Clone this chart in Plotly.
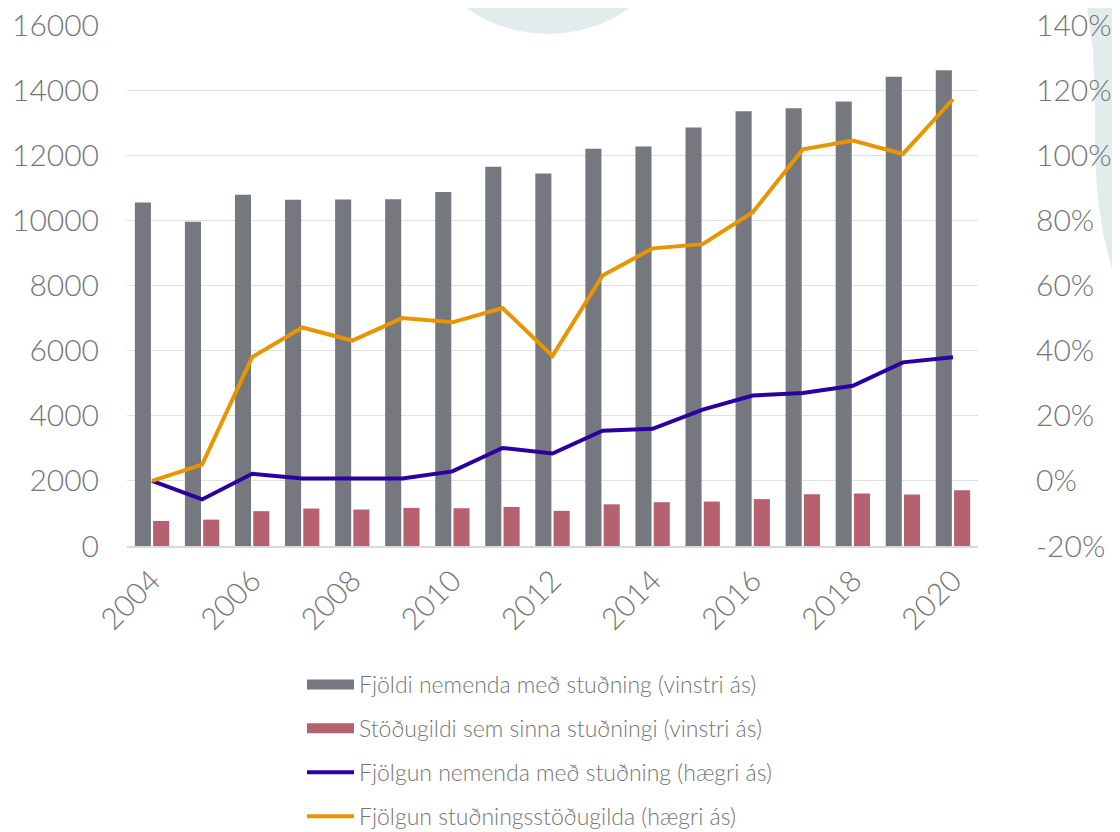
import plotly.graph_objects as go

years = list(range(2004, 2021))
fjoldi_nemenda = [10550, 9960, 10790, 10630, 10640, 10650, 10870, 11650, 11440,
                  12200, 12270, 12850, 13350, 13440, 13650, 14410, 14610]
stodugildi = [770, 810, 1070, 1150, 1120, 1170, 1160, 1200, 1080,
              1280, 1345, 1365, 1440, 1590, 1610, 1580, 1715]
fjolgun_nemenda = [0.0, -0.057, 0.022, 0.007, 0.007, 0.007, 0.029, 0.101, 0.084,
                   0.154, 0.160, 0.219, 0.262, 0.270, 0.292, 0.364, 0.380]
fjolgun_stodugilda = [0.0, 0.050, 0.380, 0.471, 0.431, 0.500, 0.487, 0.531, 0.384,
                      0.631, 0.714, 0.727, 0.825, 1.018, 1.045, 1.004, 1.172]

left_ticks = [0, 2000, 4000, 6000, 8000, 10000, 12000, 14000, 16000]
left_labels = ["0", "2000", "4000", "6000", "8000", "10000", "12000", "14000", "16000"]
right_ticks = [-0.2, 0.0, 0.2, 0.4, 0.6, 0.8, 1.0, 1.2, 1.4]
right_labels = ["-20%", "0%", "20%", "40%", "60%", "80%", "100%", "120%", "140%"]
x_ticks = years[::2]

names = ["Fjöldi nemenda með stuðning (vinstri ás)",
         "Stöðugildi sem sinna stuðningi (vinstri ás)",
         "Fjölgun nemenda með stuðning (hægri ás)",
         "Fjölgun stuðningsstöðugilda (hægri ás)"]

GREY = "#76787f"
PINK = "#b5616f"
BLUE = "#2a00a3"
ORANGE = "#e99500"
TEXT = "#767676"
TEAL = "#e2ecec"
FONT = "Lato"

# page has an 8px body margin; work in screen pixels
OFF = 8
W, H = 1120, 832 - OFF
PL, PR, PT, PB = 127, 978, 25, 546          # plot area in screen pixels
L, R, T, B = PL - OFF, W - (PR - OFF), PT - OFF, H - (PB - OFF)
pw, ph = PR - PL, PB - PT


def X(px):
    return (px - PL) / pw


def Y(py):
    return 1 - (py - PT) / ph


fig = go.Figure()

fig.add_trace(go.Bar(x=years, y=fjoldi_nemenda, name=names[0], marker_color=GREY,
                     marker_line_width=0, showlegend=False))
fig.add_trace(go.Bar(x=years, y=stodugildi, name=names[1], marker_color=PINK,
                     marker_line_width=0, showlegend=False))
fig.add_trace(go.Scatter(x=years, y=fjolgun_nemenda, name=names[2], mode="lines",
                         line=dict(color=BLUE, width=4), yaxis="y2", showlegend=False))
fig.add_trace(go.Scatter(x=years, y=fjolgun_stodugilda, name=names[3], mode="lines",
                         line=dict(color=ORANGE, width=4), yaxis="y2", showlegend=False))

# legend entries
for nm, col, w in zip(names, [GREY, PINK, BLUE, ORANGE], [13, 13, 4, 4]):
    fig.add_trace(go.Scatter(x=[None], y=[None], name=nm, mode="lines",
                             line=dict(color=col, width=w), legendgroup=nm))

shapes = [
    dict(type="circle", xref="paper", yref="paper", layer="below",
         x0=X(548 - 141), x1=X(548 + 141), y0=Y(34), y1=Y(34 - 282),
         fillcolor=TEAL, line=dict(width=0)),
]
pts = [(1086, -5), (1086, 0), (1093, 50), (1095, 100), (1095, 160), (1098, 200),
       (1103, 233), (1112, 270), (1125, 290), (1130, 310), (1130, -5)]
path = "M " + " L ".join(f"{X(a):.5f},{Y(b):.5f}" for a, b in pts) + " Z"
shapes.append(dict(type="path", xref="paper", yref="paper", layer="below", path=path,
                   fillcolor=TEAL, line=dict(width=0)))

fig.update_layout(
    width=W, height=H,
    margin=dict(l=L, r=R, t=T, b=B, pad=0, autoexpand=False),
    paper_bgcolor="white", plot_bgcolor="rgba(0,0,0,0)",
    font=dict(family=FONT, color=TEXT, size=30, weight=300),
    barmode="group", bargap=0.27, bargroupgap=0.12,
    shapes=shapes,
    xaxis=dict(range=[2003.5, 2020.5], tickvals=x_ticks, tickangle=-45,
               showgrid=False, showline=True, linecolor="#d9d9d9", linewidth=2,
               ticks="", zeroline=False, automargin=False, ticklabelstandoff=3,
               ticklabeloverflow="allow", tickfont=dict(size=30, color=TEXT)),
    yaxis=dict(range=[0, 16000], tickvals=left_ticks, ticktext=left_labels,
               showgrid=True, gridcolor="#e0e0e0", gridwidth=1.3, zeroline=False,
               showline=False, ticks="", ticklabelstandoff=27, automargin=False,
               ticklabeloverflow="allow", tickfont=dict(size=30, color=TEXT)),
    yaxis2=dict(range=[-0.2, 1.4], tickvals=right_ticks, ticktext=right_labels,
                overlaying="y", side="right", showgrid=False, zeroline=False,
                showline=False, ticks="", ticklabelstandoff=57, automargin=False,
                ticklabeloverflow="allow", tickfont=dict(size=30, color=TEXT)),
    legend=dict(orientation="v", x=X(302), xanchor="left", y=Y(663), yanchor="top",
                font=dict(size=23, color=TEXT), bgcolor="rgba(0,0,0,0)",
                itemwidth=47, tracegroupgap=11, traceorder="grouped"),
)

fig.write_html("out.html")
